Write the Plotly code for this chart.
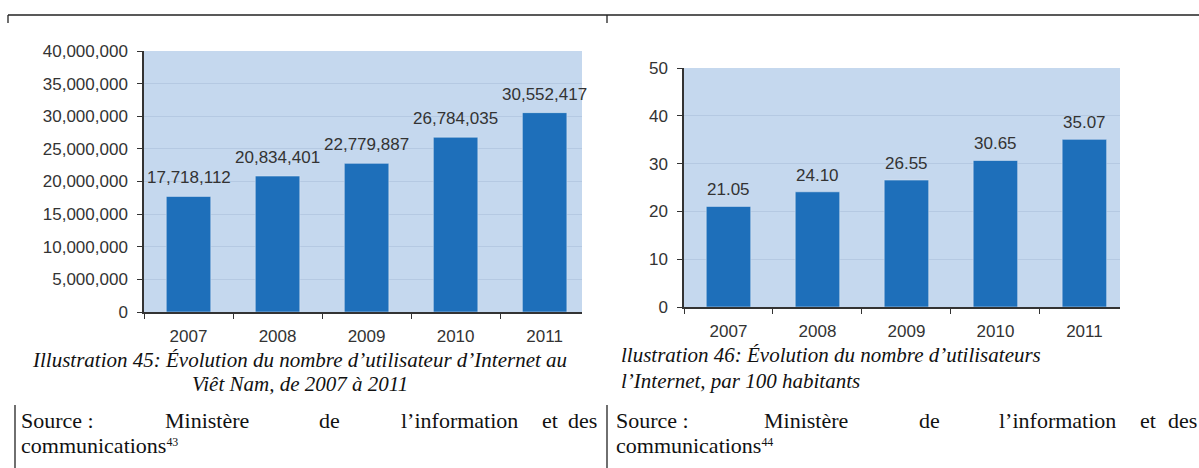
import plotly.graph_objects as go

years = ["2007", "2008", "2009", "2010", "2011"]
users = [17718112, 20834401, 22779887, 26784035, 30552417]
users_text = ["17,718,112", "20,834,401", "22,779,887", "26,784,035", "30,552,417"]
per100 = [21.05, 24.10, 26.55, 30.65, 35.07]
per100_text = ["21.05", "24.10", "26.55", "30.65", "35.07"]

bar_color = "#1e6fba"
bg_color = "#c5d8ee"
grid_color = "#b5c9e2"
ink = "#333333"
sans = "Liberation Sans, Arial, sans-serif"
serif = "Liberation Serif, Times New Roman, serif"

W, H = 1199, 468

fig = go.Figure()
fig.add_trace(go.Bar(x=years, y=users, marker_color=bar_color, width=0.5,
                     xaxis="x", yaxis="y", showlegend=False))
fig.add_trace(go.Bar(x=years, y=per100, marker_color=bar_color, width=0.5,
                     xaxis="x2", yaxis="y2", showlegend=False))

# value labels above bars (x given as category index)
for i, (v, t) in enumerate(zip(users, users_text)):
    fig.add_annotation(x=i, y=v, xref="x", yref="y", text=t, showarrow=False,
                       yanchor="bottom", yshift=7, font=dict(family=sans, size=17, color=ink))
for i, (v, t) in enumerate(zip(per100, per100_text)):
    fig.add_annotation(x=i, y=v, xref="x2", yref="y2", text=t, showarrow=False,
                       yanchor="bottom", yshift=5, font=dict(family=sans, size=17, color=ink))

def px_x(p):
    return p / W

def px_y(p):
    return 1 - p / H

axis_common = dict(showline=True, linecolor=ink, linewidth=1.5, ticks="outside",
                   tickcolor=ink, ticklen=5, tickwidth=1.2, automargin=False,
                   tickfont=dict(family=sans, size=17, color=ink))

fig.update_layout(
    width=W, height=H,
    margin=dict(l=0, r=0, t=0, b=0, pad=0),
    paper_bgcolor="white",
    plot_bgcolor=bg_color,
    bargap=0.5,
    xaxis=dict(domain=[px_x(144), px_x(582)], anchor="y", type="category",
               range=[-0.5, 4.42], tickson="boundaries", showgrid=False,
               ticklabelstandoff=8, **axis_common),
    yaxis=dict(domain=[px_y(312), px_y(51)], anchor="x", range=[0, 40000000],
               tickvals=[0, 5000000, 10000000, 15000000, 20000000, 25000000,
                         30000000, 35000000, 40000000],
               tickformat=",d", showgrid=True, gridcolor=grid_color, gridwidth=1,
               zeroline=False, ticklabelstandoff=6, **axis_common),
    xaxis2=dict(domain=[px_x(684), px_x(1120)], anchor="y2", type="category",
                range=[-0.5, 4.4], tickson="boundaries", showgrid=False,
                ticklabelstandoff=8, **axis_common),
    yaxis2=dict(domain=[px_y(307), px_y(68)], anchor="x2", range=[0, 50],
                tickvals=[0, 10, 20, 30, 40, 50], showgrid=True, gridcolor=grid_color,
                gridwidth=1, zeroline=False, ticklabelstandoff=6, **axis_common),
)

# layout shapes: top rule and column borders
line = dict(color="#222222", width=1.3)
fig.add_shape(type="line", xref="paper", yref="paper", x0=px_x(8), x1=1, y0=px_y(15), y1=px_y(15), line=line)
fig.add_shape(type="line", xref="paper", yref="paper", x0=px_x(8), x1=px_x(8), y0=px_y(15), y1=px_y(23), line=line)
fig.add_shape(type="line", xref="paper", yref="paper", x0=px_x(607), x1=px_x(607), y0=px_y(15), y1=px_y(23), line=line)
fig.add_shape(type="line", xref="paper", yref="paper", x0=px_x(15), x1=px_x(15), y0=px_y(405), y1=0, line=line)
fig.add_shape(type="line", xref="paper", yref="paper", x0=px_x(607), x1=px_x(607), y0=px_y(405), y1=0, line=line)

cap_font = dict(family=serif, size=21, color="#111111")
fig.add_annotation(xref="paper", yref="paper", x=px_x(299), y=px_y(360), showarrow=False,
                   text="<i>Illustration 45: Évolution du nombre d’utilisateur d’Internet au</i>",
                   xanchor="center", yanchor="middle", font=cap_font)
fig.add_annotation(xref="paper", yref="paper", x=px_x(300), y=px_y(384), showarrow=False,
                   text="<i>Viêt Nam, de 2007 à 2011</i>",
                   xanchor="center", yanchor="middle", font=cap_font)
fig.add_annotation(xref="paper", yref="paper", x=px_x(619), y=px_y(355), showarrow=False,
                   text="<i>llustration 46: Évolution du nombre d’utilisateurs</i>",
                   xanchor="left", yanchor="middle", font=cap_font)
fig.add_annotation(xref="paper", yref="paper", x=px_x(619), y=px_y(381), showarrow=False,
                   text="<i>l’Internet, par 100 habitants</i>",
                   xanchor="left", yanchor="middle", font=cap_font)

# source lines, justified word by word
src_font = dict(family=serif, size=22, color="#111111")
src_words = ["Source :", "Ministère", "de", "l’information", "et", "des"]
left_pos = [19, 163, 317, 399, 540, 566]
right_pos = [614, 762, 917, 997, 1138, 1166]
for w, xl, xr in zip(src_words, left_pos, right_pos):
    fig.add_annotation(xref="paper", yref="paper", x=px_x(xl), y=px_y(420), showarrow=False,
                       text=w, xanchor="left", yanchor="middle", font=src_font)
    fig.add_annotation(xref="paper", yref="paper", x=px_x(xr), y=px_y(420), showarrow=False,
                       text=w, xanchor="left", yanchor="middle", font=src_font)
fig.add_annotation(xref="paper", yref="paper", x=px_x(19), y=px_y(445), showarrow=False,
                   text="communications<span style='font-size:17px'><sup>43</sup></span>",
                   xanchor="left", yanchor="middle", font=src_font)
fig.add_annotation(xref="paper", yref="paper", x=px_x(614), y=px_y(445), showarrow=False,
                   text="communications<span style='font-size:17px'><sup>44</sup></span>",
                   xanchor="left", yanchor="middle", font=src_font)

fig.write_html("out.html", config={"displayModeBar": False},
               post_script="document.body.style.margin='0';")
